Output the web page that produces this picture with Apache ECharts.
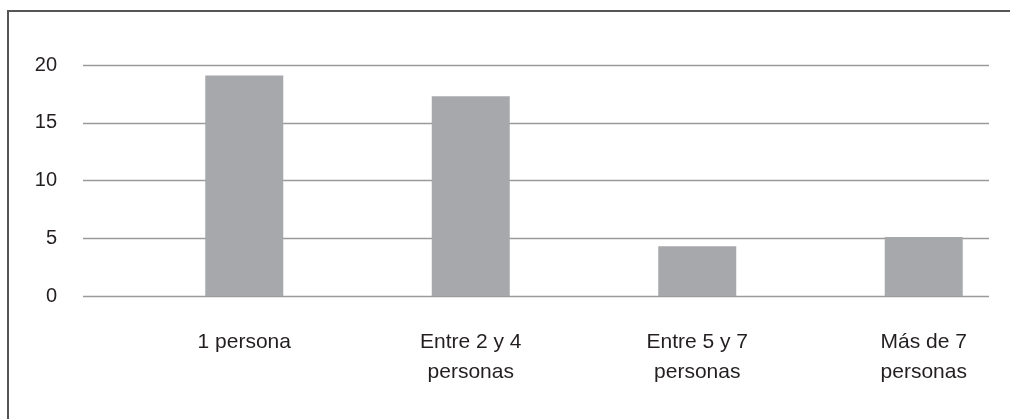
<!DOCTYPE html>
<html>
<head>
<meta charset="utf-8">
<script src="https://cdn.jsdelivr.net/npm/echarts@6/dist/echarts.min.js"></script>
<style>
  html, body { margin: 0; padding: 0; background: #fff; overflow: hidden; }
  #chart { width: 1080px; height: 419px; }
</style>
</head>
<body>
<div id="chart"></div>
<script>
const categories = ['1 persona', 'Entre 2 y 4\npersonas', 'Entre 5 y 7\npersonas', 'Más de 7\npersonas']
const values = [19.1, 17.3, 4.3, 5.1]
const yTicks = { min: 0, max: 20, interval: 5 }

const textColor = '#231f20'
const barColor = '#a7a8ab'
const gridColor = '#9a9a9a'

const chart = echarts.init(document.getElementById('chart'))

// grid 0 carries the value axis and gridlines, grid 1 (shifted right) carries the bars
chart.setOption({
	animation: false,
	backgroundColor: '#fff',
	textStyle: { fontFamily: 'Liberation Sans' },
	grid: [
		{ left: 83, top: 65, width: 906, height: 231 },
		{ left: 131, top: 65, width: 906, height: 231 }
	],
	// chart frame: only the top and left edges are in view
	graphic: [{
		type: 'polyline',
		shape: { points: [[8, 419], [8, 11], [1010, 11]] },
		style: { fill: null, stroke: '#555', lineWidth: 2 },
		silent: true
	}],
	xAxis: [
		{ gridIndex: 0, type: 'category', data: categories, show: false },
		{
			gridIndex: 1,
			type: 'category',
			data: categories,
			axisLine: { show: false },
			axisTick: { show: false },
			axisLabel: {
				color: textColor,
				fontSize: 21,
				lineHeight: 30,
				margin: 31,
				interval: 0
			}
		}
	],
	yAxis: [
		{
			gridIndex: 0,
			type: 'value',
			min: yTicks.min,
			max: yTicks.max,
			interval: yTicks.interval,
			axisLine: { show: false },
			axisTick: { show: false },
			axisLabel: { color: textColor, fontSize: 20, margin: 26 },
			splitLine: { lineStyle: { color: gridColor, width: 1.3 } }
		},
		{
			gridIndex: 1,
			type: 'value',
			min: yTicks.min,
			max: yTicks.max,
			interval: yTicks.interval,
			show: false,
			splitLine: { show: false }
		}
	],
	series: [{
		type: 'bar',
		xAxisIndex: 1,
		yAxisIndex: 1,
		data: values,
		barWidth: 78,
		itemStyle: { color: barColor }
	}]
})
</script>
</body>
</html>
